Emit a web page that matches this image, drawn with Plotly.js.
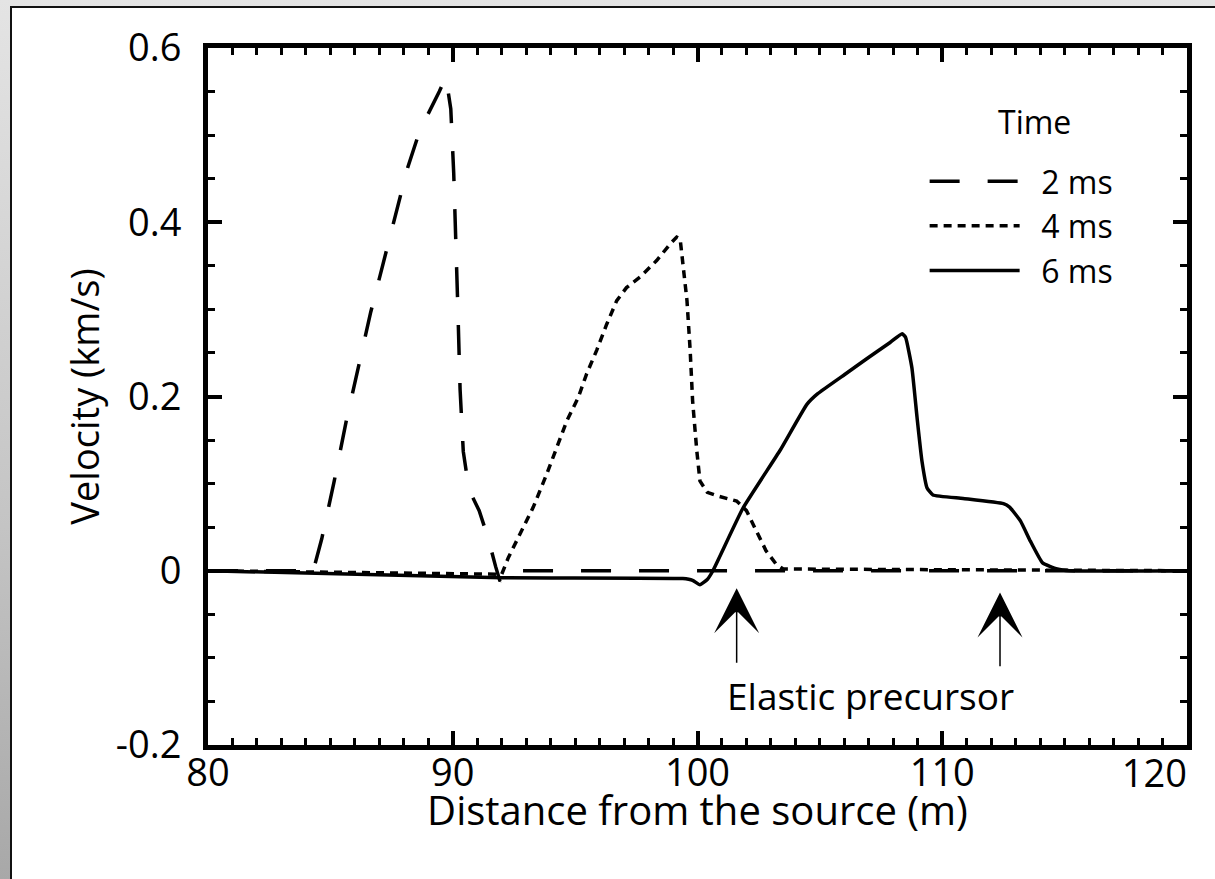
<!DOCTYPE html>
<html>
<head>
<meta charset="utf-8">
<script src="https://cdn.plot.ly/plotly-3.0.1.min.js"></script>
<style>
  html, body { margin: 0; padding: 0; width: 1215px; height: 879px; overflow: hidden;
    background: linear-gradient(to bottom, #e4e4e4 0%, #c4c4c4 60%, #a8a8a8 100%); }
  #frame { position: absolute; left: 10px; top: 6px; width: 1205px; height: 873px;
    background: #fff; border-left: 2px solid #111; border-top: 2px solid #111; }
  #chart { width: 1203px; height: 829px; }
</style>
</head>
<body>
<div id="frame"><div id="chart"></div></div>
<script>
// ---- data ----
const seriesNames = ['2 ms', '4 ms', '6 ms'];
const legendTitle = 'Time';

const x2ms = [80, 83.6, 83.9, 84.3, 84.65, 85.15, 85.65, 86.15, 86.65, 87.15, 87.65, 88.15, 88.65, 89.15, 89.45, 89.72,
              89.92, 90.04, 90.13, 90.21, 90.3, 90.43, 90.6, 90.8, 91.08, 91.45, 91.75, 91.93, 92.15, 92.4, 120];
const y2ms = [0, 0, -0.006, 0, 0.037, 0.102, 0.172, 0.235, 0.297, 0.352, 0.408, 0.462, 0.505, 0.532, 0.55, 0.567,
              0.53, 0.456, 0.385, 0.30, 0.208, 0.137, 0.105, 0.085, 0.069, 0.037, 0.005, -0.012, -0.002, 0, 0];

const x4ms = [80, 92.0, 92.27, 92.82, 93.29, 93.84, 94.25, 94.66, 95.13, 95.47, 95.88, 96.29, 96.7, 97.1, 97.65,
              98.33, 98.88, 99.15, 99.29, 99.42, 99.57, 99.7, 99.8, 99.97, 100.1, 100.4, 100.8, 101.6, 102.0,
              102.4, 102.8, 103.2, 103.5, 120];
const y4ms = [0, -0.004, 0.015, 0.046, 0.073, 0.111, 0.142, 0.172, 0.199, 0.226, 0.253, 0.283, 0.31, 0.325, 0.337,
              0.356, 0.375, 0.383, 0.381, 0.348, 0.31, 0.253, 0.195, 0.138, 0.103, 0.090, 0.086, 0.080, 0.069,
              0.046, 0.023, 0.008, 0.002, 0];

const x6ms = [80, 92.0, 99.4, 99.8, 100.1, 100.4, 100.63, 101.86, 103.37, 104.47, 104.9, 106.1, 106.9, 107.87,
              108.36, 108.5, 108.76, 108.97, 109.17, 109.38, 109.62, 110.85, 112.5, 112.75, 113.2, 113.6, 114.1,
              114.7, 115.2, 120];
const y6ms = [0, -0.008, -0.009, -0.011, -0.016, -0.01, 0, 0.072, 0.138, 0.191, 0.203, 0.227, 0.243, 0.262,
              0.272, 0.268, 0.233, 0.176, 0.126, 0.095, 0.087, 0.083, 0.077, 0.073, 0.057, 0.034, 0.009,
              0.002, 0, 0];

const xTickVals = [80, 90, 100, 110];
const xTickText = ['80', '90', '100', '110'];
const xEndTickVals = [120];
const xEndTickText = ['120'];
const yTickVals = [-0.2, 0, 0.2, 0.4, 0.6];
const yTickText = ['-0.2', '0', '0.2', '0.4', '0.6'];

const arrowX = [101.6, 112.36];
const arrowHeadY = [-0.02, -0.025];
const arrowTailY = [-0.108, -0.112];
const noteText = 'Elastic precursor';
const noteX = 107.05, noteY = -0.1435;

// ---- chart ----
const FONT = 'Open Sans, Liberation Sans, sans-serif';
const NB = '\u00a0';
const traces = [
  {x: x2ms, y: y2ms, name: NB + NB + seriesNames[0], mode: 'lines',
   line: {color: '#000', width: 3.5, dash: '30px,28px'}},
  {x: x4ms, y: y4ms, name: NB + NB + seriesNames[1], mode: 'lines',
   line: {color: '#000', width: 3.5, dash: '8px,6px'}},
  {x: x6ms, y: y6ms, name: NB + NB + seriesNames[2], mode: 'lines', xaxis: 'x2', yaxis: 'y',
   line: {color: '#000', width: 3.5, shape: 'spline', smoothing: 0.4}}
];

const annotations = arrowX.map((ax, i) => ({
  x: ax, y: arrowHeadY[i], ax: ax, ay: arrowTailY[i], xref: 'x', yref: 'y', axref: 'x', ayref: 'y',
  text: ' ', font: {size: 2}, borderpad: 0,
  showarrow: true, arrowhead: 3, arrowsize: 5, arrowwidth: 1.5, arrowcolor: '#000'
}));
annotations.push({x: noteX, y: noteY, xref: 'x', yref: 'y', text: noteText, showarrow: false,
  font: {family: FONT, size: 37, color: '#000'}});
annotations.push({x: 0.8447, y: 0.894, xref: 'paper', yref: 'paper', xanchor: 'center', yanchor: 'middle',
  text: legendTitle, showarrow: false, font: {family: FONT, size: 32, color: '#000'}});

const axisCommon = {
  showgrid: false, zeroline: false, showline: true, linecolor: '#000', linewidth: 5,
  mirror: 'ticks', ticks: 'inside', ticklen: 14, tickwidth: 4, tickcolor: '#000',
  tickfont: {family: FONT, size: 38, color: '#000'}
};

const layout = {
  width: 1203, height: 829,
  margin: {l: 196, r: 28, t: 40, b: 92},
  paper_bgcolor: '#fff', plot_bgcolor: '#fff',
  font: {family: FONT, color: '#000'},
  showlegend: true,
  legend: {
    x: 0.732, y: 0.848, xanchor: 'left', yanchor: 'top',
    bgcolor: 'rgba(0,0,0,0)', borderwidth: 0,
    font: {family: FONT, size: 32, color: '#000'},
    itemwidth: 90, tracegroupgap: 0, traceorder: 'normal'
  },
  xaxis: Object.assign({}, axisCommon, {
    range: [80, 120], tickmode: 'array', tickvals: xTickVals, ticktext: xTickText,
    minor: {dtick: 1, ticklen: 7, tickwidth: 3, tickcolor: '#000', ticks: 'inside'},
    ticklabelstandoff: -10,
    title: {text: 'Distance from the source (m)', font: {family: FONT, size: 40, color: '#000'}, standoff: 80}
  }),
  xaxis2: {
    overlaying: 'x', anchor: 'y', side: 'bottom', matches: 'x', range: [80, 120],
    showgrid: false, zeroline: false, showline: false, ticks: '',
    tickmode: 'array', tickvals: xEndTickVals, ticktext: xEndTickText,
    ticklabelposition: 'outside left', ticklabelstandoff: 3,
    tickfont: {family: FONT, size: 38, color: '#000'}
  },
  yaxis: Object.assign({}, axisCommon, {
    range: [-0.2, 0.6], tickmode: 'array', tickvals: yTickVals, ticktext: yTickText,
    minor: {dtick: 0.05, tick0: 0, ticklen: 7, tickwidth: 3, tickcolor: '#000', ticks: 'inside'},
    ticklabelstandoff: 14,
    title: {text: 'Velocity (km/s)', font: {family: FONT, size: 38, color: '#000'}, standoff: 6}
  }),
  annotations: annotations
};

Plotly.newPlot('chart', traces, layout, {displayModeBar: false, staticPlot: true});
</script>
</body>
</html>
